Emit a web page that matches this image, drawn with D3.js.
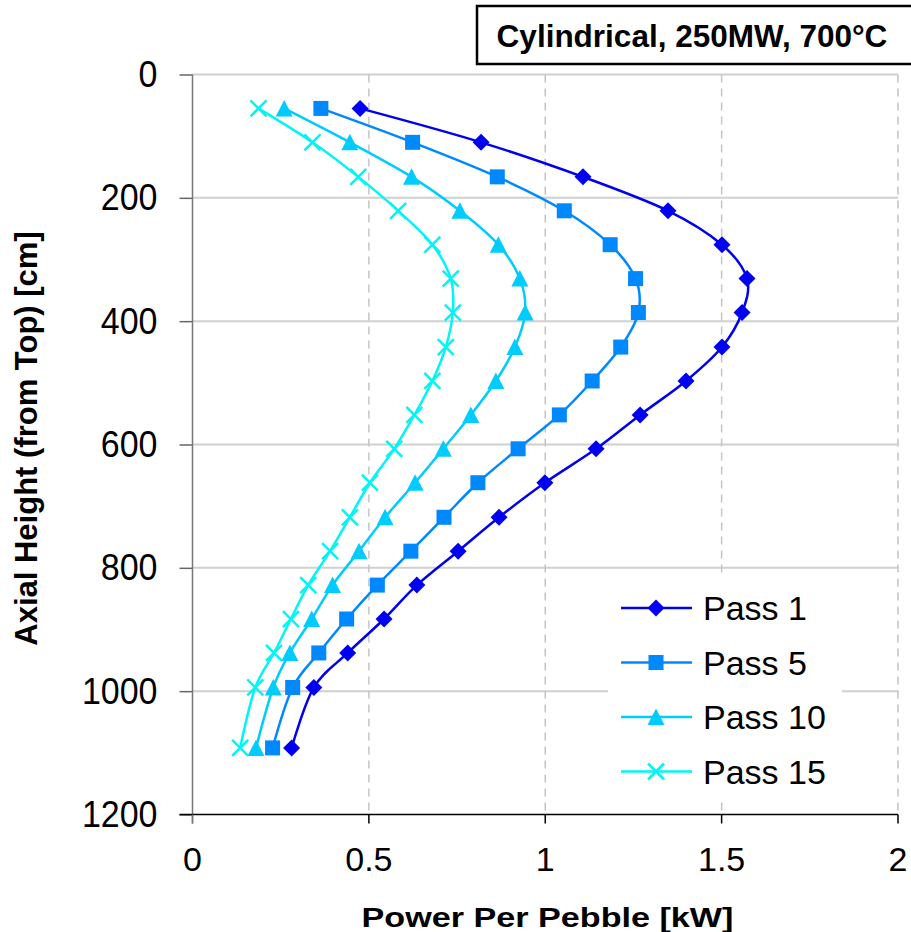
<!DOCTYPE html>
<html>
<head>
<meta charset="utf-8">
<script src="https://cdn.jsdelivr.net/npm/d3@7"></script>
<style>
  html, body { margin: 0; padding: 0; background: #ffffff; }
  svg { display: block; font-family: "Liberation Sans", Arial, sans-serif; }
</style>
</head>
<body>
<svg id="chart" width="911" height="932"></svg>
<script>
// Axial heights of the sampled zones (cm from top of core)
const heights = [55, 110, 166, 221, 276, 331, 386, 442, 497, 552, 607, 662, 718, 773, 828, 883, 938, 994, 1092];

// Power per pebble [kW] for each pass through the core
const pass1  = [0.475, 0.818, 1.107, 1.348, 1.501, 1.572, 1.558, 1.501, 1.399, 1.269, 1.144, 0.999, 0.869, 0.753, 0.636, 0.543, 0.440, 0.344, 0.281];
const pass5  = [0.364, 0.624, 0.864, 1.054, 1.184, 1.256, 1.264, 1.214, 1.133, 1.040, 0.923, 0.809, 0.713, 0.619, 0.524, 0.437, 0.358, 0.284, 0.227];
const pass10 = [0.260, 0.446, 0.621, 0.758, 0.867, 0.928, 0.943, 0.914, 0.860, 0.789, 0.711, 0.631, 0.546, 0.472, 0.397, 0.338, 0.276, 0.229, 0.180];
const pass15 = [0.187, 0.340, 0.470, 0.583, 0.680, 0.732, 0.738, 0.718, 0.680, 0.629, 0.572, 0.503, 0.446, 0.390, 0.328, 0.279, 0.231, 0.178, 0.135];

const seriesNames  = ["Pass 1", "Pass 5", "Pass 10", "Pass 15"];
const seriesColors = ["#0000f0", "#0088ff", "#00ccff", "#00f5f5"];
const seriesMarks  = ["diamond", "square", "triangle", "cross"];

const xTicks = [0, 0.5, 1, 1.5, 2];
const yTicks = [0, 200, 400, 600, 800, 1000, 1200];

const titleText  = "Cylindrical, 250MW, 700°C";
const xAxisTitle = "Power Per Pebble [kW]";
const yAxisTitle = "Axial Height (from Top) [cm]";

const series = [pass1, pass5, pass10, pass15].map((vals, i) => ({
  name: seriesNames[i],
  color: seriesColors[i],
  mark: seriesMarks[i],
  points: vals.map((v, j) => ({ x: v, y: heights[j] }))
}));

const svg = d3.select("#chart");
const plot = { left: 192.5, right: 898, top: 74.5, bottom: 814.5 };

const x = d3.scaleLinear().domain([0, 2]).range([plot.left, plot.right]);
const y = d3.scaleLinear().domain([0, 1200]).range([plot.top, plot.bottom]);

// Horizontal gridlines (solid, light grey)
svg.append("g").selectAll("line")
  .data(yTicks.filter(t => t < 1200))
  .join("line")
  .attr("x1", plot.left).attr("x2", plot.right)
  .attr("y1", d => y(d)).attr("y2", d => y(d))
  .attr("stroke", "#d0d0d0").attr("stroke-width", 2);

// Vertical gridlines (dashed, grey)
svg.append("g").selectAll("line")
  .data(xTicks.filter(t => t > 0))
  .join("line")
  .attr("x1", d => x(d)).attr("x2", d => x(d))
  .attr("y1", plot.top).attr("y2", plot.bottom)
  .attr("stroke", "#c4c4c4").attr("stroke-width", 1.5)
  .attr("stroke-dasharray", "8,6");

// Left axis: grey spine with outward ticks
const yAxis = d3.axisLeft(y).tickValues(yTicks).tickSize(13).tickPadding(22).tickFormat(d3.format("d"));
const gy = svg.append("g").attr("transform", `translate(${plot.left},0)`).call(yAxis);
gy.select(".domain").remove();
gy.selectAll(".tick line").attr("stroke", "#666").attr("stroke-width", 1.5);
gy.selectAll(".tick text").attr("font-size", 34).attr("fill", "#000")
  .attr("font-family", "'Liberation Sans', Arial, sans-serif")
  .attr("transform", "scale(1,1.1)");
svg.append("line")
  .attr("x1", plot.left).attr("x2", plot.left)
  .attr("y1", plot.top).attr("y2", plot.bottom + 9)
  .attr("stroke", "#777").attr("stroke-width", 1.5);

// Bottom axis: black spine with downward ticks
const gx = svg.append("g").attr("transform", `translate(0,${plot.bottom})`);
gx.append("line").attr("x1", plot.left - 13).attr("x2", plot.right)
  .attr("y1", 0).attr("y2", 0).attr("stroke", "#000").attr("stroke-width", 1.5);
const xt = gx.selectAll(".xtick").data(xTicks).join("g")
  .attr("class", "xtick").attr("transform", d => `translate(${x(d)},0)`);
xt.append("line").attr("y1", 0).attr("y2", 9)
  .attr("stroke", d => d === 0 ? "#777" : "#000").attr("stroke-width", 1.5);
xt.append("text").attr("y", 56).attr("text-anchor", "middle")
  .attr("font-size", 34).attr("fill", "#000")
  .text(d => d3.format("")(d));

// Data lines (smoothed) and markers
const line = d3.line().x(d => x(d.x)).y(d => y(d.y)).curve(d3.curveCardinal.tension(0));

function drawMark(g, mark, color) {
  if (mark === "diamond") {
    g.append("path").attr("d", "M0,-8.5L8.5,0L0,8.5L-8.5,0Z").attr("fill", color);
  } else if (mark === "square") {
    g.append("rect").attr("x", -7.5).attr("y", -7.5).attr("width", 15).attr("height", 15).attr("fill", color);
  } else if (mark === "triangle") {
    g.append("path").attr("d", "M0,-8.5L8.5,8L-8.5,8Z").attr("fill", color);
  } else {
    g.append("path").attr("d", "M-8,-8L8,8M-8,8L8,-8")
      .attr("stroke", color).attr("stroke-width", 2.5).attr("fill", "none");
  }
}

const sg = svg.append("g").selectAll("g").data(series).join("g");
sg.append("path")
  .attr("d", d => line(d.points))
  .attr("fill", "none")
  .attr("stroke", d => d.color)
  .attr("stroke-width", 2.5);
sg.each(function(s) {
  d3.select(this).selectAll(".pt").data(s.points).join("g")
    .attr("class", "pt")
    .attr("transform", d => `translate(${x(d.x)},${y(d.y)})`)
    .each(function() { drawMark(d3.select(this), s.mark, s.color); });
});

// Legend
const legend = svg.append("g");
legend.append("rect").attr("x", 608).attr("y", 575).attr("width", 234).attr("height", 222).attr("fill", "#fff");
const li = legend.selectAll(".li").data(series).join("g")
  .attr("class", "li")
  .attr("transform", (d, i) => `translate(0,${608 + i * 54.5})`);
li.append("line").attr("x1", 621).attr("x2", 692).attr("y1", 0).attr("y2", 0)
  .attr("stroke", d => d.color).attr("stroke-width", 2.5);
li.each(function(s) {
  const g = d3.select(this).append("g").attr("transform", "translate(656,0)");
  drawMark(g, s.mark, s.color);
});
li.append("text").attr("x", 703).attr("y", 12).attr("font-size", 34).attr("fill", "#000")
  .text(d => d.name);

// Title box
svg.append("rect").attr("x", 477).attr("y", 6).attr("width", 450).attr("height", 58)
  .attr("fill", "#fff").attr("stroke", "#000").attr("stroke-width", 2.5);
svg.append("text").attr("x", 692).attr("y", 47).attr("text-anchor", "middle")
  .attr("font-size", 31.5).attr("font-weight", "bold").attr("fill", "#000")
  .text(titleText);

// Axis titles
svg.append("text")
  .attr("transform", "translate(547.5,927) scale(1.22,1)")
  .attr("text-anchor", "middle")
  .attr("font-size", 28).attr("font-weight", "bold").attr("fill", "#000")
  .text(xAxisTitle);
svg.append("text")
  .attr("transform", "translate(37,438.5) rotate(-90)")
  .attr("text-anchor", "middle")
  .attr("font-size", 31).attr("font-weight", "bold").attr("fill", "#000")
  .text(yAxisTitle);
</script>
</body>
</html>
